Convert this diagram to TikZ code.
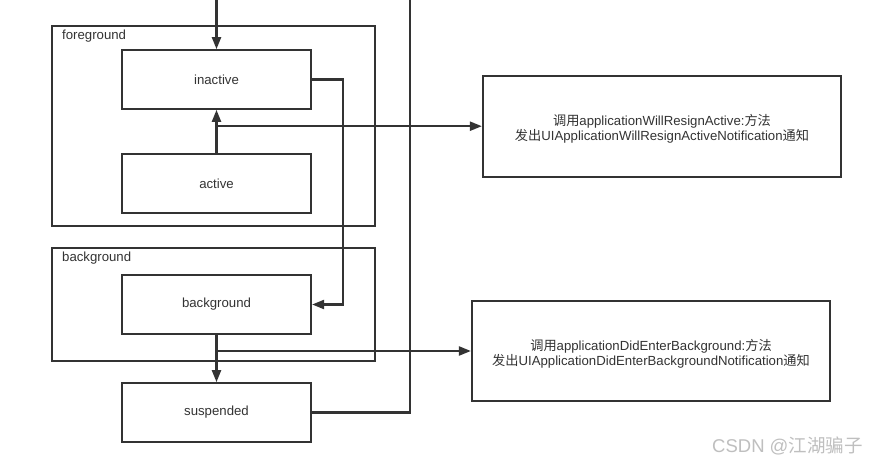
\documentclass[tikz,border=0pt]{standalone}
\usepackage{fontspec}
\setmainfont{Liberation Sans}
\newfontfamily\cjk{Noto Sans CJK SC}
\usetikzlibrary{arrows.meta}
\definecolor{ink}{HTML}{333333}
\newcommand\zhtext[1]{{\cjk #1}}
\tikzset{
  statebox/.style={draw=ink, line width=2.2pt, minimum width=189pt, minimum height=58.5pt, inner sep=0pt, text=ink, font=\fontsize{13.2}{16}\selectfont},
  frame/.style={draw=ink, line width=2.2pt},
  infobox/.style={draw=ink, line width=2.2pt, inner sep=0pt, text=ink, align=center, font=\fontsize{13.2}{15.5}\selectfont},
  grouplabel/.style={text=ink, anchor=west, inner sep=0pt, font=\fontsize{13.2}{16}\selectfont},
  conn/.style={draw=ink, line width=2.2pt},
  arr/.style={conn, -{Triangle[length=12pt,width=9pt]}},
}
\begin{document}
\begin{tikzpicture}[x=1pt,y=-1pt]
\useasboundingbox[fill=white] (0,0) rectangle (882,465);
% group frames
\draw[frame] (52,26) rectangle (375,226);
\node[grouplabel] (fglabel) at (62,36) {foreground};
\draw[frame] (52,248) rectangle (375,361);
\node[grouplabel] (bglabel) at (62,258) {background};
% state nodes
\node[statebox] (inactive) at (216.5,79.5) {inactive};
\node[statebox] (active) at (216.5,183.5) {active};
\node[statebox] (bg) at (216.5,304.5) {background};
\node[statebox] (susp) at (216.5,412.5) {suspended};
% info boxes
\node[infobox, minimum width=358pt, minimum height=101pt] (info1) at (662,126.2) {};
\node[text=ink, align=center, inner sep=0pt, font=\fontsize{13.2}{15.5}\selectfont] (info1text) at (662,129)
  {\zhtext{调用}applicationWillResignActive:\zhtext{方法}\\\zhtext{发出}UIApplicationWillResignActiveNotification\zhtext{通知}};
\node[infobox, minimum width=358pt, minimum height=100pt] (info2) at (651,351) {};
\node[text=ink, align=center, inner sep=0pt, font=\fontsize{13.2}{15.5}\selectfont] (info2text) at (651,354)
  {\zhtext{调用}applicationDidEnterBackground:\zhtext{方法}\\\zhtext{发出}UIApplicationDidEnterBackgroundNotification\zhtext{通知}};
% free ends
\coordinate (top1) at (216.5,0);
\coordinate (top2) at (410,0);
\coordinate (j1) at (216.5,126.2);
\coordinate (j2) at (216.5,351);
% connectors
\draw[arr] (top1) -- (inactive.north);
\draw[conn] (susp.east) -| (top2);
\draw[arr] (inactive.east) -- ++(31,0) |- (bg.east);
\draw[arr] (active.north) -- (inactive.south);
\draw[arr] (j1) -- (info1.west);
\draw[arr] (bg.south) -- (susp.north);
\draw[arr] (j2) -- (info2.west);
% watermark
\node[text=gray!50, anchor=west, inner sep=0pt, font=\fontsize{18.5}{22}\selectfont] (wm) at (712,446) {CSDN @\zhtext{江湖骗子}};
\end{tikzpicture}
\end{document}
